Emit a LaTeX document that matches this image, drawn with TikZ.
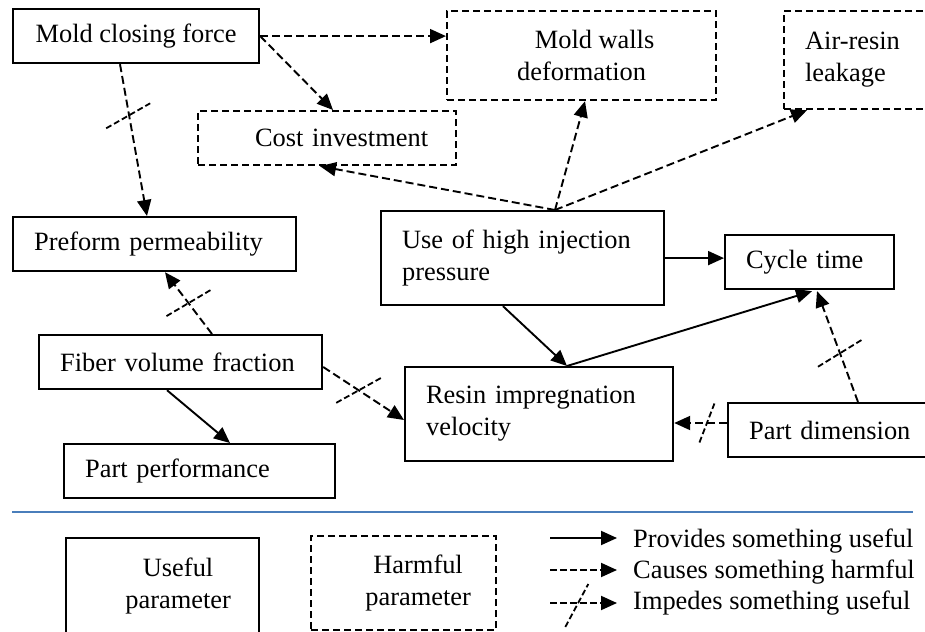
\documentclass[tikz,border=0pt]{standalone}
\usepackage{fontspec}
\setmainfont{Liberation Serif}
\usetikzlibrary{arrows.meta,calc}
\definecolor{sepblue}{RGB}{74,126,187}
\begin{document}
\begin{tikzpicture}[x=1pt,y=-1pt,
  every node/.style={font=\fontsize{26.4}{32}\selectfont},
  box/.style={draw, line width=2.2pt, rectangle, inner ysep=0pt, anchor=north west},
  hbox/.style={box, dash pattern=on 7pt off 4pt},
  arr/.style={line width=1.9pt, -{Triangle[length=16pt,width=14pt]}},
  harr/.style={arr, dash pattern=on 8pt off 4pt},
  crossl/.style={line width=1.8pt, dash pattern=on 6pt off 3pt},
  lt/.style={align=left, inner xsep=21pt}
]
\useasboundingbox (0,0) rectangle (925,631);
\clip (0,0) rectangle (925,631);

% nodes
\node[box, minimum width=246pt, minimum height=54pt] (mcf) at (12,8) {Mold closing force};
\node[hbox, minimum width=269pt, minimum height=89pt, align=center] (mw) at (446,10) {\hspace*{26pt}Mold walls\\deformation};
\node[hbox, lt, minimum width=180pt, minimum height=98pt, text width=138pt] (ar) at (783,10) {Air-resin\\leakage};
\node[hbox, minimum width=258pt, minimum height=54pt, text width=202pt, align=right, inner xsep=28pt] (ci) at (197,110) {Cost investment};
\node[box, lt, minimum width=283pt, minimum height=54pt, text width=241pt] (pp) at (12,216) {Preform permeability};
\node[box, lt, minimum width=283pt, minimum height=94pt, text width=241pt] (ui) at (380,210) {Use of high injection\\pressure};
\node[box, lt, minimum width=169pt, minimum height=54pt, text width=127pt] (ct) at (724,234) {Cycle time};
\node[box, lt, minimum width=283pt, minimum height=54pt, text width=241pt] (fvf) at (38,334) {Fiber volume fraction};
\node[box, lt, minimum width=268pt, minimum height=94pt, text width=226pt] (rv) at (404,366) {Resin impregnation\\velocity};
\node[box, lt, minimum width=230pt, minimum height=54pt, text width=188pt] (pd) at (727,402) {Part dimension};
\node[box, lt, minimum width=271pt, minimum height=54pt, text width=229pt] (ppf) at (63,443) {Part performance};

% connectors
\draw[harr] (mcf.east) -- (mcf.east -| mw.west);
\draw[harr] (mcf.east) -- ($(ci.north west)+(136,0)$);

\coordinate (a1) at ($(mcf.south west)+(108,0)$);
\coordinate (b1) at ($(pp.north west)+(135,0)$);
\draw[harr] (a1) -- coordinate[pos=0.34] (c1) (b1);
\draw[crossl] ($(c1)+(-23,12.5)$) -- ($(c1)+(21,-12.5)$);

\coordinate (utop) at ($(ui.north west)+(175,0)$);
\draw[harr] (utop) -- ($(ci.south west)+(123,0)$);
\draw[harr] (utop) -- ($(mw.south west)+(139,0)$);
\draw[harr] (utop) -- ($(ar.south west)+(24,0)$);

\draw[arr] (ui.east) -- (ui.east -| ct.west);
\coordinate (rtop) at ($(rv.north west)+(163,0)$);
\draw[arr] ($(ui.south west)+(123,0)$) -- (rtop);
\draw[arr] (rtop) -- ($(ct.south west)+(88,1)$);

\coordinate (a2) at ($(pd.north west)+(131,0)$);
\coordinate (b2) at ($(ct.south west)+(93,1)$);
\draw[harr] (a2) -- coordinate[pos=0.44] (c2) (b2);
\draw[crossl] ($(c2)+(-22,13.5)$) -- ($(c2)+(22,-13.5)$);

\coordinate (a3) at ($(pd.north west)+(0,21)$);
\coordinate (b3) at (a3 -| rv.east);
\draw[harr] (a3) -- coordinate[pos=0.38] (c3) (b3);
\draw[crossl] ($(c3)+(-7.5,19.5)$) -- ($(c3)+(7.5,-19.5)$);

\coordinate (a4) at ($(fvf.north west)+(174,0)$);
\coordinate (b4) at ($(pp.south west)+(153,0)$);
\draw[harr] (a4) -- coordinate[pos=0.5] (c4) (b4);
\draw[crossl] ($(c4)+(-22,13)$) -- ($(c4)+(22,-13)$);

\coordinate (a5) at ($(fvf.north east)+(0,33)$);
\coordinate (b5) at ($(rv.north west)+(0,54)$);
\draw[harr] (a5) -- coordinate[pos=0.44] (c5) (b5);
\draw[crossl] ($(c5)+(-22.5,12.5)$) -- ($(c5)+(22.5,-12.5)$);

\draw[arr] ($(fvf.south west)+(129,0)$) -- ($(ppf.north west)+(167,0)$);

% separator
\coordinate (s1) at (12,512);
\coordinate (s2) at (913,512);
\draw[line width=1.8pt, sepblue] (s1) -- (s2);

% legend
\node[box, minimum width=193pt, minimum height=96pt] (up) at (65,537) {\hspace*{31pt}\begin{tabular}{@{}c@{}}Useful\\parameter\end{tabular}};
\node[hbox, minimum width=185pt, minimum height=94pt] (hp) at (310,535) {\hspace*{29pt}\begin{tabular}{@{}c@{}}Harmful\\parameter\end{tabular}};

\coordinate (l1a) at (550,538); \coordinate (l1b) at (617,538);
\coordinate (l2a) at (550,570); \coordinate (l2b) at (617,570);
\coordinate (l3a) at (550,603); \coordinate (l3b) at (617,603);
\draw[arr] (l1a) -- (l1b);
\draw[harr, dash pattern=on 7pt off 3pt] (l2a) -- (l2b);
\draw[harr, dash pattern=on 7pt off 3pt] (l3a) -- coordinate[pos=0.4] (c6) (l3b);
\draw[crossl] ($(c6)+(-11.5,24)$) -- ($(c6)+(11.5,-19)$);

\node[anchor=base west, inner sep=0pt] (t1) at (633,547) {Provides something useful};
\node[anchor=base west, inner sep=0pt] (t2) at (633,578) {Causes something harmful};
\node[anchor=base west, inner sep=0pt] (t3) at (633,609) {Impedes something useful};
\end{tikzpicture}
\end{document}
